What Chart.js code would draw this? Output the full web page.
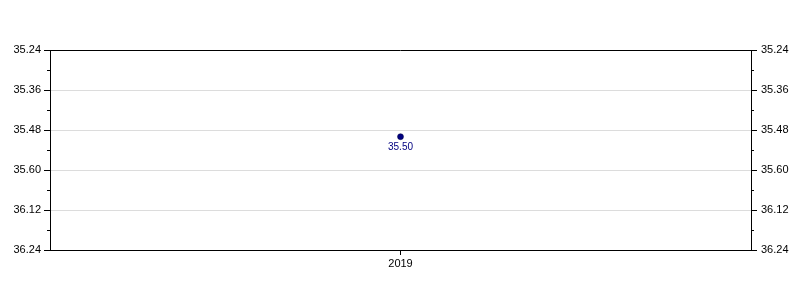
<!DOCTYPE html>
<html lang="en">
<head>
    <meta charset="UTF-8">
    <title>Time chart</title>
    <script src="https://cdn.jsdelivr.net/npm/chart.js"></script>
    <style>
        html, body { margin: 0; padding: 0; background: #fff; }
        .wrap { width: 800px; height: 300px; position: relative; }
    </style>
</head>
<body>
    <div class="wrap">
        <canvas id="timeChart"></canvas>
    </div>

    <script>
        // values are minutes.seconds, like the labels in the picture
        const years = ['2019'];
        const times = ['35.50'];
        const yTickLabels = ['35.24', '35.36', '35.48', '35.60', '36.12', '36.24'];

        function toSec(s) {
            const parts = s.split('.').map(Number);
            return parts[0] * 60 + parts[1];
        }

        const yMin = toSec(yTickLabels[0]);
        const yMax = toSec(yTickLabels[yTickLabels.length - 1]);
        const fontFamily = 'Arial, "Liberation Sans", sans-serif';

        function isMajor(v) {
            return yTickLabels.some(l => toSec(l) === v);
        }

        function yAxis(position, width, pad) {
            return {
                type: 'linear',
                position: position,
                reverse: true,
                min: yMin,
                max: yMax,
                afterFit: function(scale) { scale.width = width; },
                border: { display: true, color: '#000', width: 1 },
                grid: {
                    drawOnChartArea: position === 'left',
                    color: function(ctx) {
                        const v = ctx.tick && ctx.tick.value;
                        if (v === yMin || v === yMax || !isMajor(v)) return 'rgba(0,0,0,0)';
                        return '#dcdcdc';
                    },
                    tickColor: function(ctx) {
                        return isMajor(ctx.tick && ctx.tick.value) ? '#000' : 'rgba(0,0,0,0)';
                    },
                    tickLength: 6,
                    lineWidth: 1
                },
                ticks: {
                    stepSize: 6,
                    autoSkip: false,
                    padding: pad,
                    color: '#000',
                    font: { family: fontFamily, size: 11 },
                    callback: function(value) {
                        const lab = yTickLabels.find(l => toSec(l) === value);
                        return lab || '';
                    }
                }
            };
        }

        // short minor ticks and the top border line
        const framePlugin = {
            id: 'frame',
            afterDraw(chart) {
                const ctx = chart.ctx;
                const area = chart.chartArea;
                ctx.save();
                ctx.strokeStyle = '#000';
                ctx.lineWidth = 1;
                ctx.beginPath();
                ctx.moveTo(area.left, Math.round(area.top) + 0.5);
                ctx.lineTo(area.right, Math.round(area.top) + 0.5);
                ['y', 'y1'].forEach(id => {
                    const sc = chart.scales[id];
                    sc.ticks.forEach(t => {
                        if (isMajor(t.value)) return;
                        const py = Math.round(sc.getPixelForValue(t.value)) + 0.5;
                        if (id === 'y') {
                            ctx.moveTo(sc.right - 3, py);
                            ctx.lineTo(sc.right, py);
                        } else {
                            ctx.moveTo(sc.left, py);
                            ctx.lineTo(sc.left + 3, py);
                        }
                    });
                });
                ctx.stroke();

                // value label under each point
                const meta = chart.getDatasetMeta(0);
                ctx.fillStyle = '#000080';
                ctx.font = '10px ' + fontFamily;
                ctx.textAlign = 'center';
                ctx.textBaseline = 'top';
                meta.data.forEach((pt, i) => {
                    ctx.fillText(times[i], pt.x, pt.y + 6);
                });
                ctx.restore();
            }
        };

        new Chart(document.getElementById('timeChart'), {
            type: 'line',
            data: {
                labels: years,
                datasets: [{
                    label: 'Time',
                    data: times.map(toSec),
                    yAxisID: 'y',
                    borderColor: '#000080',
                    backgroundColor: '#000080',
                    pointRadius: 3,
                    pointBorderColor: '#000040',
                    pointBorderWidth: 0.5,
                    showLine: false
                }]
            },
            options: {
                responsive: true,
                maintainAspectRatio: false,
                animation: false,
                layout: { padding: { top: 50, left: 0, right: 0, bottom: 0 } },
                scales: {
                    x: {
                        type: 'category',
                        offset: true,
                        afterFit: function(scale) { scale.height = 50; },
                        border: { display: true, color: '#000', width: 1 },
                        grid: {
                            drawOnChartArea: false,
                            drawTicks: true,
                            tickLength: 5,
                            tickColor: '#000',
                            offset: false
                        },
                        ticks: {
                            padding: 2,
                            color: '#000',
                            font: { family: fontFamily, size: 11 }
                        }
                    },
                    y: yAxis('left', 50, 3),
                    y1: yAxis('right', 49, 4)
                },
                plugins: {
                    legend: { display: false },
                    tooltip: { enabled: false }
                }
            },
            plugins: [framePlugin]
        });
    </script>
</body>
</html>
